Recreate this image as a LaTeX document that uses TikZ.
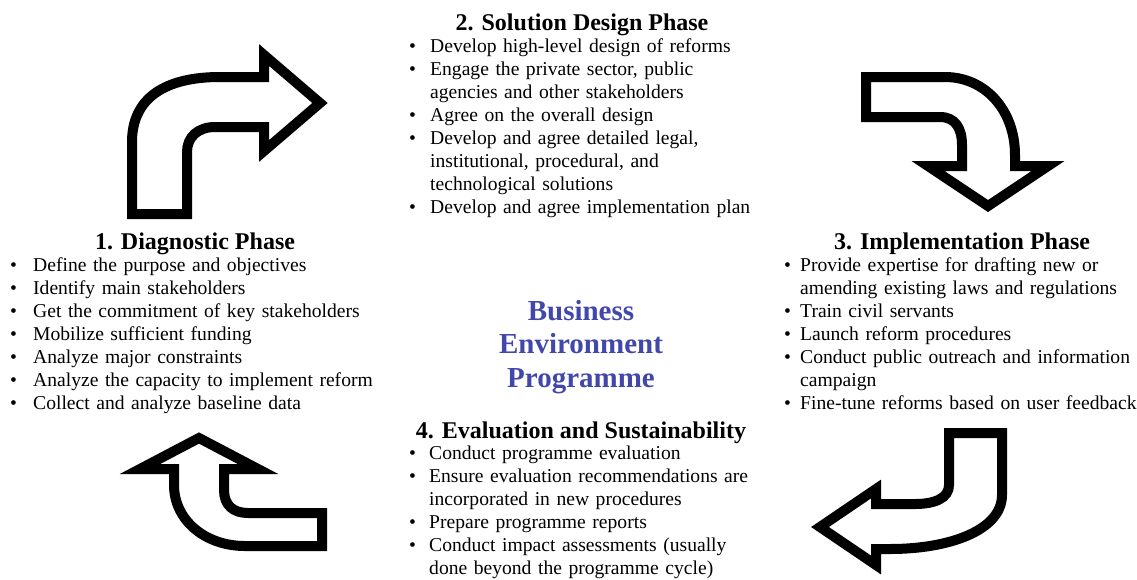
\documentclass[tikz,border=0pt]{standalone}
\usepackage{fontspec}
\setmainfont{Liberation Serif}
\definecolor{progblue}{RGB}{66,72,170}
\newlength\bind
\newcommand{\bitem}[1]{\noindent\hangindent=\bind\hangafter=1\makebox[\bind][l]{\textbullet}#1\par}
\newcommand{\nl}{\hfil\break}
\tikzset{
  phasehead/.style={anchor=base, inner sep=0pt, font=\fontsize{24}{28}\selectfont\bfseries},
  phaselist/.style={anchor=base west, inner sep=0pt, align=left, text width=420pt, font=\fontsize{19.6}{23}\selectfont},
  bigarrow/.style={draw=black, fill=white, line width=10pt, line join=miter}
}
\begin{document}
\begin{tikzpicture}[x=1pt, y=-1pt]
\useasboundingbox (0,0) rectangle (1137,579);

    % Cycle arrows
 \draw[bigarrow] (132,214) -- (132,142) .. controls (132,98) and (165,77) .. (220,77) -- (264,77) -- (264,55) -- (320,103) -- (264,151) -- (264,127) -- (215,127) .. controls (198,127) and (187,137) .. (187,152) -- (187,214) -- cycle;
 \draw[bigarrow] (866,77) -- (945,77) .. controls (985,77) and (1015,110) .. (1015,155) -- (1015,166) -- (1048,166) -- (988,206) -- (928,166) -- (962,166) -- (962,145) .. controls (962,128) and (955,117) .. (940,117) -- (866,117) -- cycle;
 \draw[bigarrow] (949,433) -- (1002,433) -- (1002,495) .. controls (1002,530) and (950,549) .. (890,549) -- (876,549) -- (876,565) -- (820,527) -- (876,489) -- (876,504) -- (915,504) .. controls (935,504) and (949,498) .. (949,485) -- cycle;
 \draw[bigarrow] (199,438) -- (258,469) -- (224,469) -- (224,490) .. controls (224,505) and (233,513) .. (248,513) -- (322,513) -- (322,546) -- (245,546) .. controls (205,546) and (174,520) .. (174,485) -- (174,469) -- (140,469) -- cycle;

    % Phases
 \node[phasehead] (diag) at (195,249) {1. Diagnostic Phase};
 \setlength\bind{23pt}
 \node[phaselist] (diaglist) at (10,271) {%
   \bitem{Define the purpose and objectives}%
   \bitem{Identify main stakeholders}%
   \bitem{Get the commitment of key stakeholders}%
   \bitem{Mobilize sufficient funding}%
   \bitem{Analyze major constraints}%
   \bitem{Analyze the capacity to implement reform}%
   \bitem{Collect and analyze baseline data}};

 \node[phasehead] (sol) at (582,30) {2. Solution Design Phase};
 \setlength\bind{21pt}
 \node[phaselist] (sollist) at (409,52) {%
   \bitem{Develop high-level design of reforms}%
   \bitem{Engage the private sector, public\nl agencies and other stakeholders}%
   \bitem{Agree on the overall design}%
   \bitem{Develop and agree detailed legal,\nl institutional, procedural, and\nl technological solutions}%
   \bitem{Develop and agree implementation plan}};

 \node[phasehead] (impl) at (962,249) {3. Implementation Phase};
 \setlength\bind{16pt}
 \node[phaselist] (impllist) at (784,271) {%
   \bitem{Provide expertise for drafting new or\nl amending existing laws and regulations}%
   \bitem{Train civil servants}%
   \bitem{Launch reform procedures}%
   \bitem{Conduct public outreach and information\nl campaign}%
   \bitem{Fine-tune reforms based on user feedback}};

 \node[phasehead] (eval) at (581,438) {4. Evaluation and Sustainability};
 \setlength\bind{20pt}
 \node[phaselist] (evallist) at (409,459) {%
   \bitem{Conduct programme evaluation}%
   \bitem{Ensure evaluation recommendations are\nl incorporated in new procedures}%
   \bitem{Prepare programme reports}%
   \bitem{Conduct impact assessments (usually\nl done beyond the programme cycle)}};

    % Centre title
 \node[inner sep=0pt, align=center, text=progblue, font=\fontsize{29}{33.5}\selectfont\bfseries] (prog) at (581,347) {Business\\Environment\\Programme};
\end{tikzpicture}
\end{document}
